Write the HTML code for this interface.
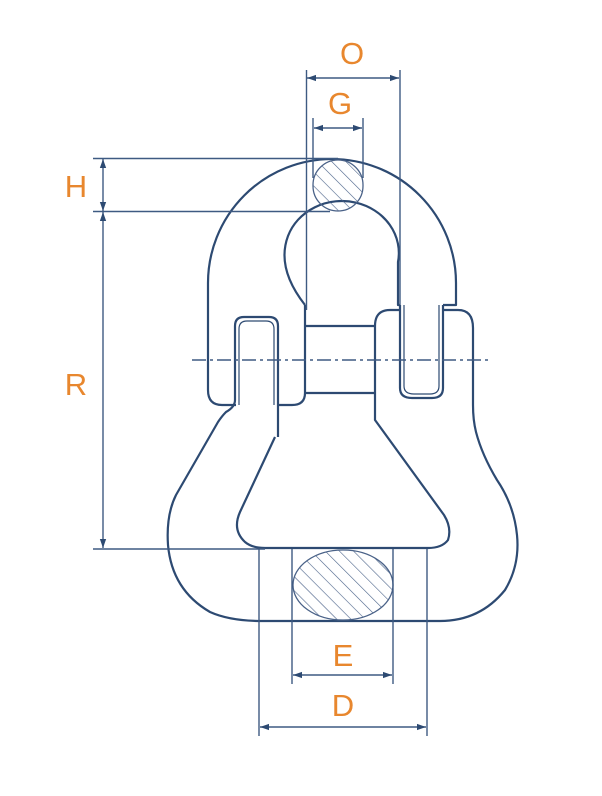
<!DOCTYPE html>
<html><head><style>
html,body{margin:0;padding:0;background:#fff;}
svg{display:block;}
text{font-family:"Liberation Sans",sans-serif;fill:#e8872e;font-size:31px;text-anchor:middle;}
</style></head><body>
<svg width="602" height="796" viewBox="0 0 602 796" xmlns="http://www.w3.org/2000/svg">
<defs>
<pattern id="h" patternUnits="userSpaceOnUse" width="10" height="10" patternTransform="rotate(-45)">
<line x1="0" y1="0" x2="0" y2="10" stroke="#4a6288" stroke-width="1.2"/>
</pattern>
<marker id="a" viewBox="0 0 10 10" refX="10" refY="5" markerWidth="9" markerHeight="9" orient="auto-start-reverse" markerUnits="userSpaceOnUse">
<path d="M0 1.5 L10 5 L0 8.5 Z" fill="#2d4a72"/>
</marker>
</defs>
<g fill="none" stroke="#2d4a72" stroke-width="2.2" stroke-linejoin="round">
<path d="M236 405 L222 405 Q208 405 208 390 L208 283 A124 124 0 0 1 456 283 L456 305 L443 305"/>
<path d="M305 393 Q305 405 292 405 L279 405"/>
<path d="M400 305 L398 305 L398 262 A57 52 0 0 0 288 236 Q276 268 305 305"/>
<path d="M305 305 L305 393 M375 326 L375 393 M305 326 L375 326 M305 393 L375 393"/>
<path d="M278 437 L278 326 Q278 317 269 317 L244 317 Q235 317 235 326 L235 400 Q235 407 226 412 Q222 416 218 422 L176 495 Q166 515 168 545 Q172 590 210 612 Q230 621 262 621 L440 621 Q480 621 505 590 Q520 565 517 535 Q514 505 497 480 Q482 455 476 432 Q473 420 473 405 L473 328 Q473 310 458 310 L443 310"/>
<path d="M400 310 L390 310 Q375 310 375 326"/>
<path d="M275 437 L240 512 Q232 530 245 542 Q252 548 265 548 L428 548 Q442 548 448 540 Q452 528 444 515 L375 420 L375 393"/>
<path d="M400 305 L400 388 Q400 398 412 398 L432 398 Q443 398 443 388 L443 305"/>
<path d="M404 305 L404 386 Q404 394 414 394 L430 394 Q439 394 439 386 L439 305" stroke-width="1.2"/>
<path d="M239 405 L239 329 Q239 321 247 321 L266 321 Q274 321 274 329 L274 405" stroke-width="1.2"/>
</g>
<rect x="313" y="160" width="50" height="51" rx="25" fill="url(#h)" stroke="#4a6288" stroke-width="1.3"/>
<ellipse cx="343" cy="585" rx="50" ry="35" fill="url(#h)" stroke="#4a6288" stroke-width="1.3"/>
<g stroke="#3e5a82" stroke-width="1.4" fill="none">
<line x1="192" y1="360" x2="488" y2="360" stroke-dasharray="14 4 3 4"/>
<line x1="306.5" y1="70" x2="306.5" y2="310"/>
<line x1="400" y1="70" x2="400" y2="305"/>
<line x1="313" y1="118" x2="313" y2="178"/>
<line x1="363" y1="118" x2="363" y2="178"/>
<line x1="93" y1="158.5" x2="338" y2="158.5"/>
<line x1="93" y1="211.5" x2="330" y2="211.5"/>
<line x1="93" y1="549" x2="265" y2="549"/>
<line x1="259" y1="549" x2="259" y2="736"/>
<line x1="427" y1="549" x2="427" y2="736"/>
<line x1="292" y1="549" x2="292" y2="684"/>
<line x1="393" y1="549" x2="393" y2="684"/>
<line x1="307" y1="78" x2="399" y2="78" marker-start="url(#a)" marker-end="url(#a)"/>
<line x1="314" y1="128" x2="362" y2="128" marker-start="url(#a)" marker-end="url(#a)"/>
<line x1="103" y1="159" x2="103" y2="211" marker-start="url(#a)" marker-end="url(#a)"/>
<line x1="103" y1="212" x2="103" y2="548" marker-start="url(#a)" marker-end="url(#a)"/>
<line x1="293" y1="675" x2="392" y2="675" marker-start="url(#a)" marker-end="url(#a)"/>
<line x1="260" y1="727" x2="426" y2="727" marker-start="url(#a)" marker-end="url(#a)"/>
</g>
<text x="352" y="64">O</text>
<text x="340" y="114">G</text>
<text x="76" y="197">H</text>
<text x="76" y="395">R</text>
<text x="343" y="666">E</text>
<text x="343" y="716">D</text>
</svg>
</body></html>
